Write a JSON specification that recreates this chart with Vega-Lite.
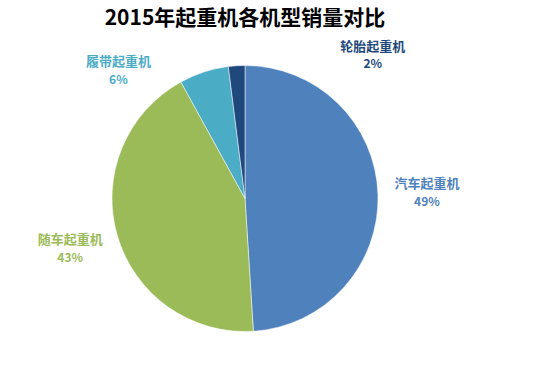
{
  "$schema": "https://vega.github.io/schema/vega-lite/v6.json",
  "autosize": "none",
  "width": 490,
  "height": 317,
  "padding": {"left": 0, "top": 40, "right": 51, "bottom": 18},
  "background": "#ffffff",
  "title": {
    "text": "2015年起重机各机型销量对比",
    "font": "Noto Sans CJK SC",
    "fontSize": 21,
    "fontWeight": "bold",
    "color": "#000000",
    "anchor": "middle",
    "offset": 0,
    "dy": 27
  },
  "config": {"view": {"stroke": null}},
  "data": {
    "values": [
      {"name": "汽车起重机", "value": 0.49},
      {"name": "随车起重机", "value": 0.43},
      {"name": "履带起重机", "value": 0.06},
      {"name": "轮胎起重机", "value": 0.02}
    ]
  },
  "encoding": {
    "theta": {"field": "value", "type": "quantitative", "stack": true},
    "order": {"field": "value", "sort": "descending"},
    "color": {
      "field": "name",
      "type": "nominal",
      "scale": {
        "domain": ["汽车起重机", "随车起重机", "履带起重机", "轮胎起重机"],
        "range": ["#4F81BD", "#9BBB59", "#4BACC6", "#1F497D"]
      },
      "legend": null
    }
  },
  "layer": [
    {"mark": {"type": "arc", "outerRadius": 133, "stroke": "#ffffff", "strokeWidth": 0.5}},
    {
      "mark": {"type": "text", "radius": 182, "dy": -9, "font": "Noto Sans CJK SC", "fontSize": 13, "fontWeight": "bold"},
      "encoding": {"text": {"condition": {"test": "datum.value > 0.3", "field": "name"}, "value": ""}}
    },
    {
      "mark": {"type": "text", "radius": 182, "dy": 9, "font": "Noto Sans CJK SC", "fontSize": 12, "fontWeight": "bold"},
      "encoding": {"text": {"condition": {"test": "datum.value > 0.3", "field": "value", "format": ".0%"}, "value": ""}}
    },
    {
      "mark": {"type": "text", "radius": 180, "dx": -71, "dy": 35, "font": "Noto Sans CJK SC", "fontSize": 13, "fontWeight": "bold"},
      "encoding": {"text": {"condition": {"test": "datum.name === '履带起重机'", "field": "name"}, "value": ""}}
    },
    {
      "mark": {"type": "text", "radius": 180, "dx": -71, "dy": 53, "font": "Noto Sans CJK SC", "fontSize": 12, "fontWeight": "bold"},
      "encoding": {"text": {"condition": {"test": "datum.name === '履带起重机'", "field": "value", "format": ".0%"}, "value": ""}}
    },
    {
      "mark": {"type": "text", "radius": 180, "dx": 139, "dy": 28, "font": "Noto Sans CJK SC", "fontSize": 13, "fontWeight": "bold"},
      "encoding": {"text": {"condition": {"test": "datum.name === '轮胎起重机'", "field": "name"}, "value": ""}}
    },
    {
      "mark": {"type": "text", "radius": 180, "dx": 139, "dy": 45, "font": "Noto Sans CJK SC", "fontSize": 12, "fontWeight": "bold"},
      "encoding": {"text": {"condition": {"test": "datum.name === '轮胎起重机'", "field": "value", "format": ".0%"}, "value": ""}}
    }
  ]
}
